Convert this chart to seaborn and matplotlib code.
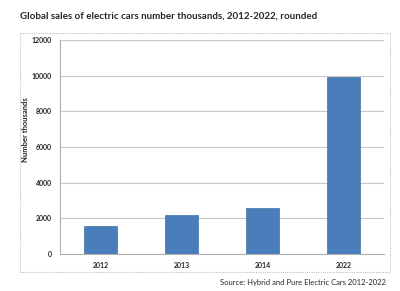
import matplotlib
matplotlib.use("Agg")
import matplotlib.pyplot as plt
import seaborn as sns
import pandas as pd
from matplotlib.patches import Rectangle

years = ["2012", "2013", "2014", "2022"]
sales = [1600, 2200, 2600, 9900]
yticks = [0, 2000, 4000, 6000, 8000, 10000, 12000]

sns.set_style("white")
plt.rcParams['font.family'] = ['Lato', 'DejaVu Sans']

fig = plt.figure(figsize=(4, 2.91), dpi=100)
ax = fig.add_axes([0.15, 0.127, 0.81, 0.7355])

df = pd.DataFrame({"year": years, "sales": sales})
sns.barplot(data=df, x="year", y="sales", color="#4a7ebb", width=0.4,
            saturation=1, ax=ax, edgecolor="#3f6fa8", linewidth=0.5)

ax.set_ylim(0, 12000)
ax.set_yticks(yticks)
ax.set_yticklabels([str(v) for v in yticks], fontsize=5, fontweight="bold")
ax.set_xticklabels(years, fontsize=5, fontweight="bold")
ax.yaxis.grid(True, color="#c8c8c8", linewidth=0.8)
ax.set_axisbelow(True)
ax.set_xlabel("")
ax.set_ylabel("Number thousands", fontsize=5.5, fontweight="bold")
ax.yaxis.set_label_coords(-0.096, 0.58)
for s in ["top", "right"]:
    ax.spines[s].set_visible(False)
for s in ["left", "bottom"]:
    ax.spines[s].set_color("#b0b0b0")
    ax.spines[s].set_linewidth(0.8)
ax.tick_params(axis="both", length=0, pad=6)
ax.set_xlim(-0.5, 3.5)

fig.text(0.05, 0.945, "Global sales of electric cars number thousands, 2012-2022, rounded",
         fontsize=7, fontweight="bold", ha="left", va="center")
fig.text(0.965, 0.028, "Source: Hybrid and Pure Electric Cars 2012-2022",
         fontsize=5.5, ha="right", va="center")

fig.patches.append(Rectangle((0.05, 0.065), 0.925, 0.822, transform=fig.transFigure,
                             fill=False, edgecolor="#c0c0c0", linestyle=(0, (1, 1)),
                             linewidth=0.8))

fig.savefig("out.png", dpi=100)
